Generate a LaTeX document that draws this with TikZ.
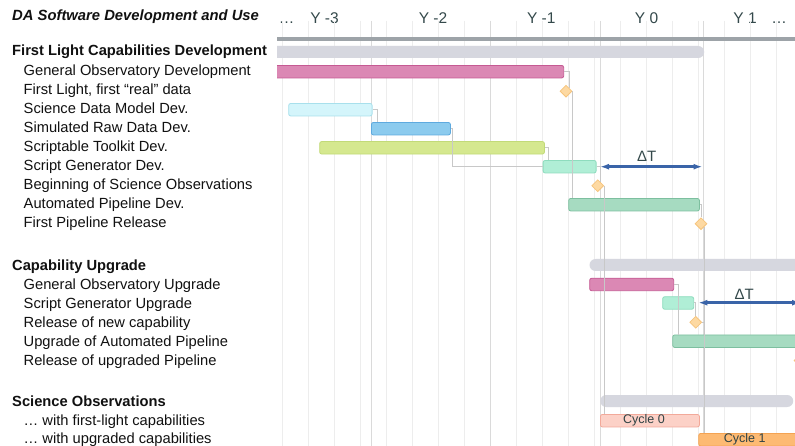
\documentclass[tikz,border=0pt]{standalone}
\usepackage{fontspec}
\setmainfont{Liberation Sans}
\usetikzlibrary{shapes.geometric,arrows.meta,calc}
\definecolor{txt}{HTML}{111111}
\definecolor{slate}{HTML}{34494B}
\definecolor{hdrbar}{HTML}{9DA3A8}
\definecolor{sumgray}{HTML}{D6D7DF}
\definecolor{gridc}{HTML}{EDEDED}
\definecolor{gridd}{HTML}{DADADA}
\definecolor{conngray}{HTML}{C8C8C8}
\definecolor{pinkf}{HTML}{DB88B4}\definecolor{pinkd}{HTML}{C55A93}
\definecolor{cyanf}{HTML}{D4F5FB}\definecolor{cyand}{HTML}{A8E0EC}
\definecolor{bluef}{HTML}{8CCBEE}\definecolor{blued}{HTML}{5EAADF}
\definecolor{limef}{HTML}{D5E88F}\definecolor{limed}{HTML}{C2DA78}
\definecolor{mintf}{HTML}{B0EED6}\definecolor{mintd}{HTML}{8EDCBE}
\definecolor{greenf}{HTML}{A6DBC1}\definecolor{greend}{HTML}{7DBF9F}
\definecolor{msfill}{HTML}{FDD9A2}\definecolor{msdraw}{HTML}{F6C47C}
\definecolor{c0f}{HTML}{FCD1C7}\definecolor{c0d}{HTML}{F2A99A}
\definecolor{c1f}{HTML}{FDBA73}\definecolor{c1d}{HTML}{F4A352}
\definecolor{arrowc}{HTML}{3A64A8}
\begin{document}
\begin{tikzpicture}[x=1pt,y=-1pt,
  lab/.style={anchor=base west, inner sep=0, font=\fontsize{14.7}{17}\selectfont, text=txt},
  head/.style={anchor=base west, inner sep=0, font=\fontsize{14.7}{17}\selectfont\bfseries, text=txt},
  yr/.style={anchor=base, inner sep=0, font=\fontsize{15.5}{18}\selectfont, text=slate},
  bar/.style={draw, rounded corners=2pt, inner sep=0, minimum height=12.5pt, anchor=west, line width=0.8pt},
  sumbar/.style={fill=sumgray, rounded corners=6pt, inner sep=0, minimum height=12pt, anchor=west},
  ms/.style={diamond, draw=msdraw, fill=msfill, line width=0.8pt, inner sep=0, minimum width=12pt, minimum height=12pt},
  conn/.style={draw=conngray, line width=1pt},
  gridln/.style={draw=gridc, line width=1.2pt},
  keyln/.style={draw=gridd, line width=1pt},
  cyc/.style={inner sep=0, font=\fontsize{12.5}{15}\selectfont, text=slate!90!black},
  dtarrow/.style={draw=arrowc, line width=2.4pt, {Latex[length=9pt,width=6pt]}-{Latex[length=9pt,width=6pt]}},
  dtlab/.style={anchor=base, inner sep=0, font=\fontsize{15}{18}\selectfont, text=slate}
]
\useasboundingbox (0,0) rectangle (795,446);
\fill[white] (0,0) rectangle (795,446);

% left labels
\node[anchor=base west, inner sep=0, font=\fontsize{14.8}{17}\selectfont\bfseries\itshape, text=txt] (title) at (12,21) {DA Software Development and Use};
\node[head] (h1) at (12,56) {First Light Capabilities Development};
\node[lab] (l1) at (23.5,76) {General Observatory Development};
\node[lab] (l2) at (23.5,95) {First Light, first “real” data};
\node[lab] (l3) at (23.5,114) {Science Data Model Dev.};
\node[lab] (l4) at (23.5,133) {Simulated Raw Data Dev.};
\node[lab] (l5) at (23.5,152) {Scriptable Toolkit Dev.};
\node[lab] (l6) at (23.5,171) {Script Generator Dev.};
\node[lab] (l7) at (23.5,190) {Beginning of Science Observations};
\node[lab] (l8) at (23.5,209) {Automated Pipeline Dev.};
\node[lab] (l9) at (23.5,228) {First Pipeline Release};
\node[head] (h2) at (12,270.5) {Capability Upgrade};
\node[lab] (m1) at (23.5,289.5) {General Observatory Upgrade};
\node[lab] (m2) at (23.5,308.5) {Script Generator Upgrade};
\node[lab] (m3) at (23.5,327.5) {Release of new capability};
\node[lab] (m4) at (23.5,346.5) {Upgrade of Automated Pipeline};
\node[lab] (m5) at (23.5,365.5) {Release of upgraded Pipeline};
\node[head] (h3) at (12,406.5) {Science Observations};
\node[lab] (n1) at (23.5,425.5) {… with first-light capabilities};
\node[lab] (n2) at (23.5,443.5) {… with upgraded capabilities};

% year labels
\node[yr] (ydots1) at (286.5,24) {…};
\node[yr] (ym3) at (324.5,24) {Y -3};
\node[yr] (ym2) at (433,24) {Y -2};
\node[yr] (ym1) at (541.3,24) {Y -1};
\node[yr] (y0) at (646.5,24) {Y 0};
\node[yr] (y1) at (745,24) {Y 1};
\node[yr] (ydots2) at (779,24) {…};

\begin{scope}
\clip (277,0) rectangle (795,446);
% grid
\foreach \k in {0,...,19} {\draw[gridln] (282.7+26*\k,21) -- (282.7+26*\k,446);}
\foreach \xx in {371.7,490.3,600,703.3} {\draw[keyln] (\xx,21) -- (\xx,446);}
% header bar
\draw[draw=hdrbar, line width=3.8pt] (277,39.2) -- (795,39.2);

% summary bars
\node[sumbar, minimum width=449pt] (fls) at (255,52) {};
\node[sumbar, minimum width=230pt] (cus) at (589.3,265) {};
\node[sumbar, minimum width=193pt] (sos) at (600,401) {};

% task bars
\node[bar, draw=pinkd, fill=pinkf, minimum width=308.3pt] (god) at (255,71.7) {};
\node[bar, draw=cyand, fill=cyanf, minimum width=83.4pt] (sdm) at (288.3,109.7) {};
\node[bar, draw=blued, fill=bluef, minimum width=79pt] (srd) at (371,128.7) {};
\node[bar, draw=limed, fill=limef, minimum width=224.7pt] (stk) at (319.3,147.8) {};
\node[bar, draw=mintd, fill=mintf, minimum width=53pt] (sgd) at (542.7,166.7) {};
\node[bar, draw=greend, fill=greenf, minimum width=130.7pt] (apd) at (568.3,204.7) {};
\node[bar, draw=pinkd, fill=pinkf, minimum width=84pt] (gou) at (589.3,284.5) {};
\node[bar, draw=mintd, fill=mintf, minimum width=31pt] (sgu) at (662.3,303) {};
\node[bar, draw=greend, fill=greenf, minimum width=140pt] (uap) at (672.3,341.2) {};
\node[bar, draw=c0d, fill=c0f, minimum width=99pt] (c0) at (600,420.7) {};
\node[bar, draw=c1d, fill=c1f, minimum width=120pt] (c1) at (698.3,439.7) {};
\node[cyc] (c0t) at (644,420.7) {Cycle 0};
\node[cyc] (c1t) at (744.7,439.7) {Cycle 1};

% milestones
\node[ms] (fl) at (566,91.2) {};
\node[ms] (bso) at (597.7,185.7) {};
\node[ms] (fpr) at (701,223.7) {};
\node[ms] (rnc) at (695.7,322.3) {};
\node[ms] (rup) at (800,360.5) {};

% dependency connectors
\draw[conn] (god.east) -| (fl.north east);
\draw[conn] (fl.east) -- (fl.east |- apd.north);
\draw[conn] (sdm.east) -- ++(4.5,0) coordinate (k3) -- (k3 |- srd.north);
\draw[conn] (srd.east) -- ++(2,0) |- (sgd.west);
\draw[conn] (stk.east) -- ++(4,0) coordinate (k5) -- (k5 |- sgd.north);
\draw[conn] (sgd.east) -| (bso.north east);
\draw[conn] (bso.east) -- (bso.east |- c0.north);
\draw[conn] (apd.east) -| (fpr.north);
\draw[conn] (fpr.south east) -- (fpr.south east |- c1.north);
\draw[conn] (gou.east) -- ++(4,0) coordinate (k9) -- (k9 |- uap.north);
\draw[conn] (sgu.east) -| (rnc.north);
\draw[conn] (rnc.east) -- ++(2,0) coordinate (k11) -- (k11 |- c1.north);

% delta T
\coordinate (dt1a) at (600,166.7);
\coordinate (dt1b) at (702.5,166.7);
\coordinate (dt2a) at (698.3,302.7);
\coordinate (dt2b) at (801,302.7);
\draw[dtarrow] (dt1a) -- (dt1b);
\draw[dtarrow] (dt2a) -- (dt2b);
\node[dtlab] (dt1l) at (646.7,161.5) {ΔT};
\node[dtlab] (dt2l) at (744.3,299.3) {ΔT};
\end{scope}
\end{tikzpicture}
\end{document}
